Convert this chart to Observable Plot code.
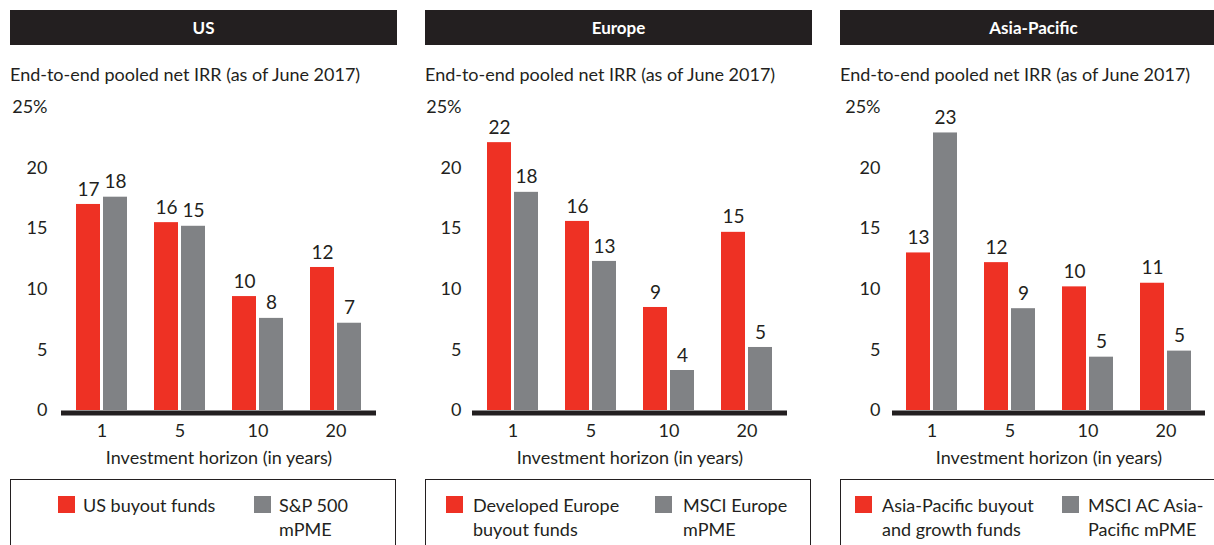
<!DOCTYPE html>
<html>
<head>
<meta charset="utf-8">
<script src="https://cdn.jsdelivr.net/npm/d3@7"></script>
<script src="https://cdn.jsdelivr.net/npm/@observablehq/plot@0.6"></script>
<style>
  html, body { margin: 0; padding: 0; background: #fff; overflow: hidden; }
  #root { position: relative; width: 1214px; height: 545px; overflow: hidden; font-family: Lato, "Open Sans", sans-serif; color: #231f20; }
  .panel { position: absolute; top: 0; width: 415px; height: 545px; }
  .hdr { position: absolute; left: 10px; top: 10px; width: 387px; height: 35px; background: #231f20; color: #fff;
         font-weight: bold; font-size: 17px; line-height: 35px; text-align: center; }
  .sub { position: absolute; left: 10px; top: 62px; font-size: 18px; line-height: 24px; white-space: nowrap; }
  .chart { position: absolute; left: 0; top: 90px; }
  .leg { position: absolute; left: 10px; top: 479px; width: 386px; height: 90px; border: 1px solid #231f20; box-sizing: border-box; }
  .sw { position: absolute; top: 496px; width: 17px; height: 17px; }
  .lt { position: absolute; top: 493px; font-size: 18px; line-height: 24px; white-space: nowrap; }
</style>
</head>
<body>
<div id="root"></div>
<script>
// ---- data ----
const horizons = ["1", "5", "10", "20"];
const yTicks = [0, 5, 10, 15, 20, 25];

const usBuyout = [17.0, 15.5, 9.4, 11.8];
const usIndex = [17.6, 15.2, 7.6, 7.2];
const usBuyoutLabels = ["17", "16", "10", "12"];
const usIndexLabels = ["18", "15", "8", "7"];

const euBuyout = [22.1, 15.6, 8.5, 14.7];
const euIndex = [18.0, 12.3, 3.3, 5.2];
const euBuyoutLabels = ["22", "16", "9", "15"];
const euIndexLabels = ["18", "13", "4", "5"];

const apBuyout = [13.0, 12.2, 10.2, 10.5];
const apIndex = [22.9, 8.4, 4.4, 4.9];
const apBuyoutLabels = ["13", "12", "10", "11"];
const apIndexLabels = ["23", "9", "5", "5"];

const titles = ["US", "Europe", "Asia-Pacific"];
const subtitle = "End-to-end pooled net IRR (as of June 2017)";
const xLabel = "Investment horizon (in years)";
const buyoutNames = ["US buyout funds", "Developed Europe<br>buyout funds", "Asia-Pacific buyout<br>and growth funds"];
const indexNames = ["S&amp;P 500<br>mPME", "MSCI Europe<br>mPME", "MSCI AC Asia-<br>Pacific mPME"];

// ---- layout / style ----
const RED = "#ee3124", GRAY = "#808285", INK = "#231f20";
const FONT = "Lato, 'Open Sans', sans-serif";
const panels = [
  {left: 0,   buyout: usBuyout, index: usIndex, bl: usBuyoutLabels, il: usIndexLabels, ml: 61, end: 376, pad: 14, leg: [58, 83, 254, 279]},
  {left: 415, buyout: euBuyout, index: euIndex, bl: euBuyoutLabels, il: euIndexLabels, ml: 57, end: 372, pad: 11, leg: [31, 58, 240, 268]},
  {left: 830, buyout: apBuyout, index: apIndex, bl: apBuyoutLabels, il: apIndexLabels, ml: 62, end: 375, pad: 12, leg: [25, 52, 232, 258]}
];

const root = document.getElementById("root");
panels.forEach((p, i) => {
  const div = document.createElement("div");
  div.className = "panel";
  div.style.left = p.left + "px";
  div.innerHTML = `<div class="hdr">${titles[i]}</div><div class="sub">${subtitle}</div>`;

  const data = horizons.map((h, k) => ({h, buyout: p.buyout[k], index: p.index[k], bl: p.bl[k], il: p.il[k]}));
  const W = 400;
  const chart = Plot.plot({
    width: W, height: 385,
    marginLeft: p.ml, marginRight: W - p.end, marginTop: 17, marginBottom: 65,
    style: {fontFamily: FONT, fontSize: "18px", color: INK, background: "transparent", overflow: "visible"},
    x: {domain: horizons, paddingInner: 0.34, paddingOuter: 0.17, label: xLabel, labelAnchor: "center", labelArrow: "none",
        tickSize: 0, tickPadding: 14, labelOffset: 53},
    y: {domain: [0, 25], ticks: yTicks, tickFormat: d => d === 25 ? "25%" : String(d), tickSize: 0, tickPadding: p.pad, label: null},
    marks: [
      Plot.barY(data, {x: "h", y: "buyout", fill: RED, insetRight: 27}),
      Plot.barY(data, {x: "h", y: "index", fill: GRAY, insetLeft: 27}),
      Plot.text(data, {x: "h", y: "buyout", text: "bl", dx: -13.5, dy: -15, fill: INK, fontSize: 19}),
      Plot.text(data, {x: "h", y: "index", text: "il", dx: 13.5, dy: -15, fill: INK, fontSize: 19}),
      Plot.ruleY([0], {stroke: INK, strokeWidth: 5, dy: 2.5})
    ]
  });
  chart.classList.add("chart");
  div.appendChild(chart);

  const leg = document.createElement("div");
  leg.className = "leg";
  div.appendChild(leg);
  const [rs, rt, gs, gt] = p.leg;
  div.insertAdjacentHTML("beforeend",
    `<div class="sw" style="left:${rs}px;background:${RED}"></div>
     <div class="lt" style="left:${rt}px">${buyoutNames[i]}</div>
     <div class="sw" style="left:${gs}px;background:${GRAY}"></div>
     <div class="lt" style="left:${gt}px">${indexNames[i]}</div>`);
  root.appendChild(div);
});
</script>
</body>
</html>
